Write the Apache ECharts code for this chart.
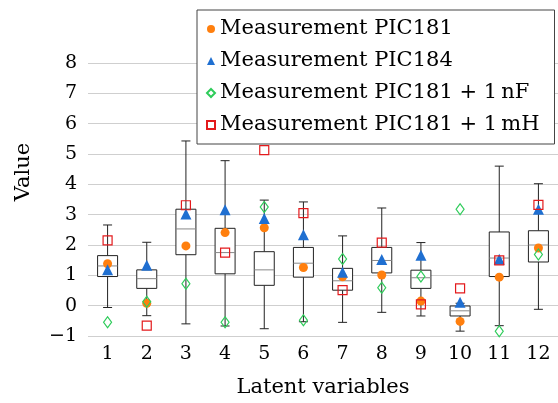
<!DOCTYPE html>
<html>
<head>
<meta charset="utf-8">
<script src="https://cdn.jsdelivr.net/npm/echarts@6/dist/echarts.min.js"></script>
<style>html,body{margin:0;padding:0;background:#fff;}#c{width:558px;height:403px;}</style>
</head>
<body>
<div id="c"></div>
<script>
const categories = ['1','2','3','4','5','6','7','8','9','10','11','12'];
const whiskerLow  = [-0.06, -0.33, -0.60, -0.67, -0.76, -0.53, -0.55, -0.22, -0.34, -0.84, -0.66, -0.12];
const q1          = [0.96, 0.57, 1.68, 1.05, 0.67, 0.94, 0.51, 1.08, 0.57, -0.34, 0.96, 1.44];
const median      = [1.31, 0.89, 2.53, 1.75, 1.18, 1.40, 0.82, 1.49, 0.92, -0.17, 1.57, 2.00];
const q3          = [1.65, 1.18, 3.18, 2.55, 1.78, 1.92, 1.23, 1.92, 1.17, -0.01, 2.43, 2.47];
const whiskerHigh = [2.66, 2.09, 5.43, 4.78, 3.48, 3.42, 2.30, 3.22, 2.08, 0.08, 4.60, 4.02];

const pic181   = [1.38, 0.08, 1.97, 2.41, 2.57, 1.26, 0.95, 1.01, 0.15, -0.52, 0.94, 1.90];
const pic184   = [1.18, 1.33, 3.02, 3.16, 2.87, 2.34, 1.10, 1.52, 1.66, 0.11, 1.53, 3.18];
const pic181nF = [-0.55, 0.13, 0.72, -0.55, 3.25, -0.48, 1.54, 0.59, 0.96, 3.18, -0.84, 1.69];
const pic181mH = [2.15, -0.66, 3.31, 1.75, 5.13, 3.05, 0.51, 2.08, 0.04, 0.57, 1.49, 3.32];

const yTicks = [-1, 0, 1, 2, 3, 4, 5, 6, 7, 8];
const seriesNames = ['Measurement PIC181', 'Measurement PIC184', 'Measurement PIC181 + 1\u2009nF', 'Measurement PIC181 + 1\u2009mH'];

const FONT = 'DejaVu Serif';
const FS = 19;
const FS_TEXT = 21;

const boxData = categories.map((c, i) => [i, whiskerLow[i], q1[i], median[i], q3[i], whiskerHigh[i]]);

function renderBox(params, api) {
  const idx = api.value(0);
  const pLow = api.coord([idx, api.value(1)]);
  const pQ1 = api.coord([idx, api.value(2)]);
  const pMed = api.coord([idx, api.value(3)]);
  const pQ3 = api.coord([idx, api.value(4)]);
  const pHigh = api.coord([idx, api.value(5)]);
  const x = pLow[0];
  const hw = 10, cw = 4.5;
  const ls = { stroke: '#222', lineWidth: 1 };
  return {
    type: 'group',
    children: [
      { type: 'line', shape: { x1: x, y1: pLow[1], x2: x, y2: pQ1[1] }, style: ls },
      { type: 'line', shape: { x1: x, y1: pQ3[1], x2: x, y2: pHigh[1] }, style: ls },
      { type: 'line', shape: { x1: x - cw, y1: pLow[1], x2: x + cw, y2: pLow[1] }, style: ls },
      { type: 'line', shape: { x1: x - cw, y1: pHigh[1], x2: x + cw, y2: pHigh[1] }, style: ls },
      { type: 'rect', shape: { x: x - hw, y: pQ3[1], width: 2 * hw, height: pQ1[1] - pQ3[1] }, style: { fill: '#fff', stroke: '#222', lineWidth: 1 } },
      { type: 'line', shape: { x1: x - hw, y1: pMed[1], x2: x + hw, y2: pMed[1] }, style: { stroke: '#888', lineWidth: 1 } }
    ]
  };
}

function pts(arr) { return arr.map((v, i) => [i, v]); }

const chart = echarts.init(document.getElementById('c'), null, { renderer: 'canvas' });
chart.setOption({
  animation: false,
  backgroundColor: '#fff',
  textStyle: { fontFamily: FONT },
  grid: { left: 88, right: -8, top: 63, bottom: 63 },
  xAxis: {
    type: 'category',
    data: categories,
    boundaryGap: true,
    axisLine: { show: false },
    axisTick: { show: false },
    splitLine: { show: false },
    axisLabel: { color: '#000', fontFamily: FONT, fontSize: FS, margin: 9 },
    name: 'Latent variables',
    nameLocation: 'middle',
    nameGap: 41,
    nameTextStyle: { color: '#000', fontFamily: FONT, fontSize: FS_TEXT }
  },
  yAxis: {
    type: 'value',
    min: -1, max: 8, interval: 1,
    axisLine: { show: false },
    axisTick: { show: false },
    splitLine: { show: true, lineStyle: { color: '#cfcfcf', width: 1 } },
    axisLabel: {
      color: '#000', fontFamily: FONT, fontSize: FS, margin: 11,
      formatter: v => (yTicks.indexOf(v) >= 0 ? String(v).replace('-', '\u2212') : '')
    }
  },
  graphic: [{
    type: 'text', x: 24, y: 172, rotation: Math.PI / 2,
    style: { text: 'Value', fontFamily: FONT, fontSize: FS_TEXT, fill: '#000', align: 'center', verticalAlign: 'middle' }
  }],
  legend: {
    orient: 'vertical',
    left: 197, top: 10,
    padding: [8, 15, 8, 9],
    itemGap: 10,
    itemWidth: 8, itemHeight: 8,
    borderColor: '#444', borderWidth: 1,
    backgroundColor: '#fff',
    data: seriesNames,
    textStyle: { color: '#000', fontFamily: FONT, fontSize: FS_TEXT, lineHeight: 22 }
  },
  series: [
    { type: 'custom', renderItem: renderBox, data: boxData, encode: { x: 0, y: [1, 2, 3, 4, 5] }, z: 2, silent: true },
    { name: seriesNames[0], type: 'scatter', data: pts(pic181), symbol: 'circle', symbolSize: 9, z: 5,
      itemStyle: { color: '#ff7f0e', opacity: 1 } },
    { name: seriesNames[1], type: 'scatter', data: pts(pic184), symbol: 'triangle', symbolSize: 11, z: 6,
      itemStyle: { color: '#1f6fd1', opacity: 1 } },
    { name: seriesNames[2], type: 'scatter', data: pts(pic181nF), symbol: 'diamond', symbolSize: [8, 11], z: 7,
      itemStyle: { color: 'rgba(255,255,255,0)', borderColor: '#2ecc5a', borderWidth: 1.2, opacity: 1 } },
    { name: seriesNames[3], type: 'scatter', data: pts(pic181mH), symbol: 'rect', symbolSize: 9, z: 8,
      itemStyle: { color: 'rgba(255,255,255,0)', borderColor: '#e31a1c', borderWidth: 1.2, opacity: 1 } }
  ]
});
</script>
</body>
</html>
